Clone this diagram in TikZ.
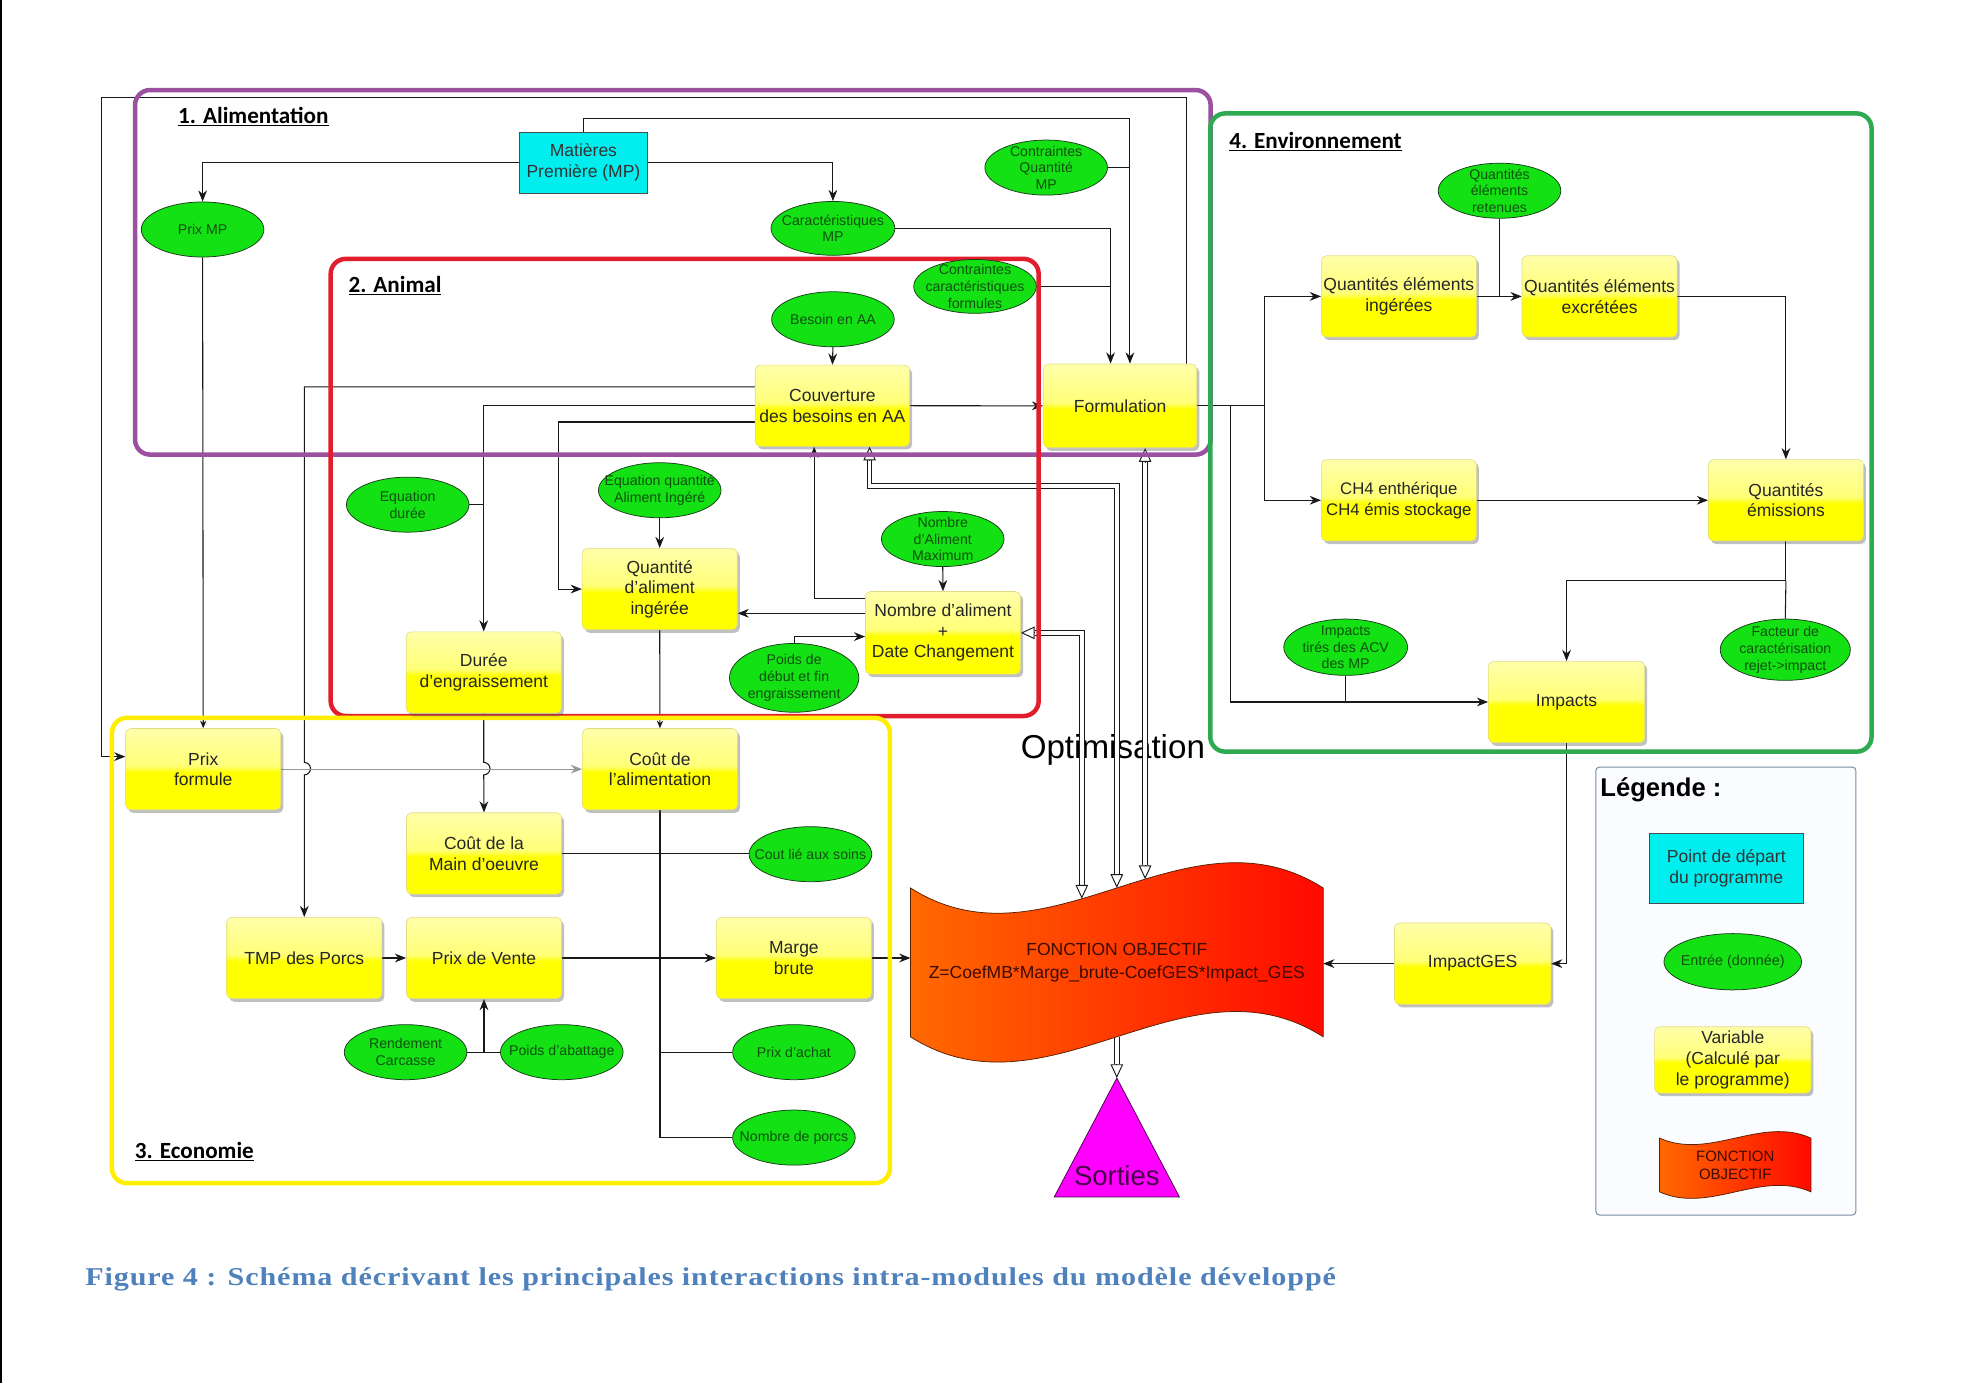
\documentclass[tikz,border=0pt]{standalone}
\usepackage{fontspec}
\usepackage{graphicx}
\setmainfont{Liberation Sans}
\newfontfamily\calib{Carlito}
\newfontfamily\capfont[LetterSpace=3]{Liberation Serif}
\usetikzlibrary{shapes.geometric,arrows.meta,shadows,calc}
\pgfdeclarelayer{bg}
\pgfdeclarelayer{lines}
\pgfdeclarelayer{frames}
\pgfsetlayers{bg,lines,frames,main}

\definecolor{cPurple}{RGB}{155,80,160}
\definecolor{cRed}{RGB}{226,30,45}
\definecolor{cYel}{RGB}{255,238,0}
\definecolor{cGreen}{RGB}{46,170,80}
\definecolor{cCyan}{RGB}{0,238,238}
\definecolor{cEll}{RGB}{20,225,20}
\definecolor{cEllEdge}{RGB}{25,60,25}
\definecolor{cEllTxt}{RGB}{15,80,15}
\definecolor{cYlight}{RGB}{255,255,170}
\definecolor{cYmid}{RGB}{255,255,120}
\definecolor{cBox}{RGB}{255,255,0}
\definecolor{cYedge}{RGB}{225,220,130}
\definecolor{cCap}{RGB}{79,129,189}
\definecolor{cFtxt}{RGB}{60,10,0}
\definecolor{cLeg}{RGB}{120,140,165}
\definecolor{cOr}{RGB}{255,105,0}
\definecolor{cRd}{RGB}{255,10,0}
\definecolor{cWaveEdge}{RGB}{90,30,0}
\definecolor{cMag}{RGB}{255,0,255}
\definecolor{cSortTxt}{RGB}{70,0,70}

\pgfdeclareverticalshading{yboxshade}{100bp}{color(0bp)=(cBox); color(25bp)=(cBox); color(48bp)=(cBox); color(52bp)=(cYmid); color(75bp)=(cYlight); color(100bp)=(cYlight)}

\tikzset{
  varbox/.style={rectangle, rounded corners=4pt, minimum width=124pt, minimum height=65pt,
    inner sep=0pt, shading=yboxshade, draw=cYedge, line width=0.5pt,
    drop shadow={shadow xshift=2pt, shadow yshift=-2.5pt, opacity=0.35, fill=black!70},
    font=\fontsize{14}{16.5}\selectfont, text=black!85, align=center},
  inp/.style={ellipse, fill=cEll, draw=cEllEdge, line width=0.6pt,
    minimum width=98pt, minimum height=44pt, inner sep=0pt},
  etx/.style={font=\fontsize{11.3}{13.3}\selectfont, text=cEllTxt, align=center, inner sep=0pt},
  startbox/.style={rectangle, fill=cCyan, draw=black!70, line width=0.6pt,
    minimum width=103pt, minimum height=49pt, inner sep=0pt,
    font=\fontsize{14}{17}\selectfont, text=black!80, align=center},
  con/.style={draw=black!90, line width=0.85pt},
  arr/.style={con, -{Stealth[length=9pt,width=7pt]}},
  sarr/.style={con, -{Stealth[length=6pt,width=5pt]}},
  garr/.style={draw=black!40, line width=0.85pt, -{Stealth[length=9pt,width=7pt]}},
  dbl/.style={draw=black!90, line width=0.75pt, double=white, double distance=3pt},
  oarr/.style={draw=black!90, line width=0.75pt, -{Triangle[open,length=11pt,width=10pt]}},
  modframe/.style={line width=3.6pt, rounded corners=12pt},
  modlabel/.style={font=\calib\bfseries\fontsize{18.5}{21}\selectfont, anchor=base west, inner sep=0pt},
}

\begin{document}
\begin{tikzpicture}[x=1pt,y=-1pt]
\useasboundingbox (0,0) rectangle (1568,1106);
\begin{pgfonlayer}{bg}
\fill[white] (0,0) rectangle (1568,1106);
\draw[line width=1.6pt] (0.8,0) -- (0.8,1106);
\end{pgfonlayer}

% ---------- module frames ----------
\begin{pgfonlayer}{frames}
\draw[modframe, draw=cPurple] (108,72) rectangle (968,363.5);
\draw[modframe, draw=cRed] (264.4,207) rectangle (830.5,572.5);
\draw[modframe, draw=cYel] (89.5,574) rectangle (711.6,946);
\draw[modframe, draw=cGreen] (967.7,90.7) rectangle (1496.5,601);
\end{pgfonlayer}

\node[modlabel] (lab1) at (142.3,98.5) {\underline{1. Alimentation}};
\node[modlabel] (lab2) at (278.5,234) {\underline{2. Animal}};
\node[modlabel] (lab3) at (107.7,926) {\underline{3. Economie}};
\node[modlabel] (lab4) at (982.7,118.6) {\underline{4. Environnement}};

% ---------- 1. Alimentation ----------
\node[startbox] (mp) at (466.5,130) {Matières\\Première (MP)};
\node[inp, label={[etx]center:Prix MP}] (prixmp) at (162,183.5) {};
\node[inp, minimum width=99pt, minimum height=43pt, label={[etx]center:{Caractéristiques\\MP}}] (caract) at (666,182.6) {};
\node[inp, label={[etx]center:{Contraintes\\Quantité\\MP}}] (cqmp) at (836.5,134) {};
\node[inp, minimum height=43pt, label={[etx]center:{Contraintes\\caractéristiques\\formules}}] (ccf) at (779.6,229) {};
\node[varbox, minimum width=122.6pt, minimum height=67pt] (formu) at (895.6,324.5) {Formulation};

% ---------- 2. Animal ----------
\node[inp, label={[etx]center:Besoin en AA}] (besoin) at (666,255.3) {};
\node[varbox, minimum width=123.4pt] (couv) at (665.6,324.4) {Couverture\\des besoins en AA};
\node[inp, label={[etx]center:{Equation\\durée}}] (eqdur) at (326,403.5) {};
\node[inp, label={[etx]center:{Equation quantité\\Aliment Ingéré}}] (eqqai) at (527.5,392) {};
\node[varbox] (qai) at (527.5,471) {Quantité\\d'aliment\\ingérée};
\node[inp, label={[etx]center:{Nombre\\d'Aliment\\Maximum}}] (nam) at (753.8,431) {};
\node[varbox, minimum height=66pt] (nda) at (754,506) {Nombre d'aliment\\+\\Date Changement};
\node[inp, minimum width=103.4pt, minimum height=55pt, label={[etx]center:{Poids de\\début et fin\\engraissement}}] (poids) at (635,542) {};
\node[varbox] (duree) at (386.8,537.7) {Durée\\d'engraissement};

% ---------- 3. Economie ----------
\node[varbox] (prixf) at (162.5,615) {Prix\\formule};
\node[varbox] (coutal) at (527.7,615) {Coût de\\l'alimentation};
\node[varbox] (coutmo) at (387,682.4) {Coût de la\\Main d'oeuvre};
\node[varbox] (tmp) at (243.3,766) {TMP des Porcs};
\node[varbox] (pvente) at (387,766) {Prix de Vente};
\node[varbox] (marge) at (634.8,766) {Marge\\brute};
\node[inp, label={[etx]center:Cout lié aux soins}] (soins) at (648,683) {};
\node[inp, label={[etx]center:{Rendement\\Carcasse}}] (rendc) at (324.3,841.3) {};
\node[inp, label={[etx]center:Poids d'abattage}] (pabat) at (449.2,841.3) {};
\node[inp, label={[etx]center:Prix d'achat}] (achat) at (634.8,841.3) {};
\node[inp, label={[etx]center:Nombre de porcs}] (nporcs) at (634.8,909.6) {};

% ---------- 4. Environnement ----------
\node[inp, label={[etx]center:{Quantités\\éléments\\retenues}}] (qer) at (1199,152.5) {};
\node[varbox] (qei) at (1118.5,237) {Quantités éléments\\ingérées};
\node[varbox] (qee) at (1279,237) {Quantités éléments\\excrétées};
\node[varbox, font=\fontsize{13.4}{16.5}\selectfont] (ch4) at (1118.5,400) {CH4 enthérique\\CH4 émis stockage};
\node[varbox] (qem) at (1428,400) {Quantités\\émissions};
\node[inp, minimum width=99pt, minimum height=45pt, label={[etx]center:{Impacts\\tirés des ACV\\des MP}}] (iacv) at (1076,517.5) {};
\node[inp, minimum width=104pt, minimum height=49pt, label={[etx]center:{Facteur de\\caractérisation\\rejet->impact}}] (fcar) at (1427.5,519.5) {};
\node[varbox, minimum width=125pt] (impacts) at (1252.6,561.3) {Impacts};
\node[varbox, minimum width=125pt] (impges) at (1177.5,770.5) {ImpactGES};

% ---------- objective function ----------
\shade[left color=cOr, right color=cRd, draw=cWaveEdge, line width=0.6pt]
  (728,710) .. controls (838,780) and (948,640) .. (1058,710) -- (1058,829)
  .. controls (948,759) and (838,899) .. (728,829) -- cycle;
\node[font=\fontsize{14}{18.5}\selectfont, text=cFtxt, align=center] (fobj) at (893,770)
  {FONCTION OBJECTIF\\Z=CoefMB*Marge\_brute-CoefGES*Impact\_GES};
\coordinate (fL) at (728,766);
\coordinate (fR) at (1058,770.5);
\coordinate (ft1) at (865,718.6);
\coordinate (ft2) at (893,710);
\coordinate (ft3) at (915.6,703);
\coordinate (fB) at (893,829);

\coordinate (sortApex) at (893,862);
\filldraw[fill=cMag, draw=cSortTxt, line width=0.6pt] (sortApex) -- (943,957) -- (843,957) -- cycle;
\node[font=\fontsize{22}{24}\selectfont, text=cSortTxt, anchor=base, inner sep=0pt] (sorties) at (893,947.6) {Sorties};

% ---------- legend ----------
\draw[draw=cLeg, line width=0.8pt, rounded corners=3pt, fill={rgb,255:red,250;green,252;blue,255}] (1276,613.3) rectangle (1484,971.5);
\node[anchor=base west, font=\bfseries\fontsize{20.5}{23}\selectfont, inner sep=0pt] (legt) at (1279.4,636.5) {Légende :};
\node[startbox, minimum width=123.4pt, minimum height=56pt, font=\fontsize{14}{16.8}\selectfont] (legs) at (1380.3,694) {Point de départ\\du programme};
\node[inp, minimum width=110pt, minimum height=45pt, label={[etx, font=\fontsize{11.5}{13}\selectfont]center:Entrée (donnée)}] (lege) at (1385.5,769) {};
\node[varbox, minimum width=125pt, minimum height=53pt, font=\fontsize{14}{17}\selectfont] (legv) at (1385.5,847.5) {Variable\\(Calculé par\\le programme)};
\shade[left color=cOr, right color=cRd, draw=cWaveEdge, line width=0.6pt]
  (1327,910) .. controls (1367,928) and (1408,892) .. (1448,910) -- (1448,953)
  .. controls (1408,935) and (1367,971) .. (1327,953) -- cycle;
\node[font=\fontsize{12}{14.5}\selectfont, text=cFtxt, align=center] (legf) at (1387.5,932) {FONCTION\\OBJECTIF};

% ---------- caption ----------
\node[anchor=base west, inner sep=0pt, text=cCap] (capt) at (68,1028)
  {\resizebox{1000pt}{\height}{\capfont\bfseries\fontsize{20.5}{22}\selectfont Figure 4 : Schéma décrivant les principales interactions intra-modules du modèle développé}};

% ---------- connectors ----------
\begin{pgfonlayer}{lines}
\node[font=\fontsize{26.5}{30}\selectfont, anchor=base west, inner sep=0pt] (optim) at (816,606.6) {Optimisation};

\coordinate (finA) at ([xshift=-7.6pt]formu.north);
\coordinate (finB) at ([xshift=7.9pt]formu.north);
\coordinate (finC) at ([xshift=53.4pt]formu.north);
\coordinate (outerTL) at (81,78);
\coordinate (prixfin) at ([yshift=10pt]prixf.west);

\draw[arr] (mp.west) -| (prixmp.north);
\draw[arr] (mp.east) -| (caract.north);
\draw[arr] (mp.north) -- ++(0,-10.8) -| (finB);
\draw[con] (cqmp.east) -- (cqmp.east -| finB);
\draw[arr] (caract.east) -| (finA);
\draw[con] (ccf.east) -- (ccf.east -| finA);
\draw[arr] (finC) |- (outerTL) |- (prixfin);

\coordinate (cv1) at ([yshift=15pt]couv.west);
\coordinate (cv3) at ([yshift=-13pt]couv.west);
\coordinate (hopA) at (243.3,609.6);
\coordinate (hopB) at (386.8,609.6);
\draw[arr] (cv1) -| (hopA) arc[start angle=90,end angle=-90,radius=5pt] -- (tmp.north);
\draw[arr] (couv.west) -| (duree.north);
\draw[con] (eqdur.east) -- (eqdur.east -| duree.north);
\draw[arr] (duree.south) -- (hopB) arc[start angle=90,end angle=-90,radius=5pt] -- (coutmo.north);
\draw[arr] (cv3) -| ([xshift=-19pt]qai.west) -- (qai.west);
\draw[arr] (besoin.south) -- (couv.north);
\draw[arr] (couv.east) -- (formu.west);
\draw[arr] (eqqai.south) -- (qai.north);
\draw[arr] (nam.south) -- (nda.north);
\coordinate (nl1) at ([yshift=15.6pt]nda.west);
\coordinate (nl2) at ([yshift=27.6pt]nda.west);
\draw[arr] (nl1) -- (nl1 -| qai.east);
\draw[arr] (nl2) -| ([xshift=-14.6pt]couv.south);
\draw[arr] (poids.north) |- ([yshift=-3pt]nda.west);
\draw[sarr] (qai.south) -- (coutal.north);
\draw[sarr] (prixmp.south) -- (prixf.north);

\draw[garr] (prixf.east) -- (coutal.west);
\draw[arr] (tmp.east) -- (pvente.west);
\draw[con] (pvente.east) -- (pvente.east -| coutal.south);
\draw[con] (coutal.south) |- (nporcs.west);
\draw[con] (coutmo.east) -- (coutmo.east -| soins.west);
\draw[con] (achat.west) -- (achat.west -| coutal.south);
\draw[arr, line width=1.5pt] (coutmo.east -| coutal.south) |- (marge.west);
\draw[con] (rendc.east) -- (pabat.west);
\draw[arr] (rendc.east -| pvente.south) -- (pvente.south);
\draw[arr] (marge.east) -- (fL);
\draw[arr] (impges.west) -- (fR);

\coordinate (j1) at ([xshift=54pt]formu.east);
\coordinate (j2) at ([xshift=27pt]formu.east);
\draw[con] (formu.east) -- (j1);
\draw[arr] (j1) |- (qei.west);
\draw[arr] (j1) |- (ch4.west);
\draw[arr] (j2) |- (impacts.west);
\draw[con] (iacv.south) -- (iacv.south |- impacts.west);
\draw[arr] (qei.east) -- (qee.west);
\draw[con] (qer.south) -- (qer.south |- qei.east);
\draw[arr] (qee.east) -| (qem.north);
\draw[arr] (ch4.east) -- (qem.west);
\coordinate (j3) at ([yshift=-31.5pt]qem.south);
\draw[arr] (qem.south) -- (j3) -| (impacts.north);
\draw[con] (fcar.north) -- (j3);
\draw[arr] (impacts.south) |- (impges.east);

% double (optimisation) links
\coordinate (d1s) at ([xshift=29.7pt]couv.south);
\coordinate (d1c) at (893,388.5);
\coordinate (d3s) at ([xshift=20pt]formu.south);
\draw[dbl] ($(d1s)+(0,11)$) |- (d1c) -- ($(ft2)+(0,-11)$);
\draw[oarr] ($(d1s)+(0,11)$) -- (d1s);
\draw[oarr] ($(ft2)+(0,-11)$) -- (ft2);
\draw[dbl] ($(nda.east)+(11,0)$) -| ($(ft1)+(0,-11)$);
\draw[oarr] ($(nda.east)+(11,0)$) -- (nda.east);
\draw[oarr] ($(ft1)+(0,-11)$) -- (ft1);
\draw[dbl] ($(d3s)+(0,11)$) -- ($(ft3)+(0,-11)$);
\draw[oarr] ($(d3s)+(0,11)$) -- (d3s);
\draw[oarr] ($(ft3)+(0,-11)$) -- (ft3);
\draw[dbl] (fB) -- ($(sortApex)+(0,-11)$);
\draw[oarr] ($(sortApex)+(0,-11)$) -- (sortApex);
\end{pgfonlayer}
\end{tikzpicture}
\end{document}
